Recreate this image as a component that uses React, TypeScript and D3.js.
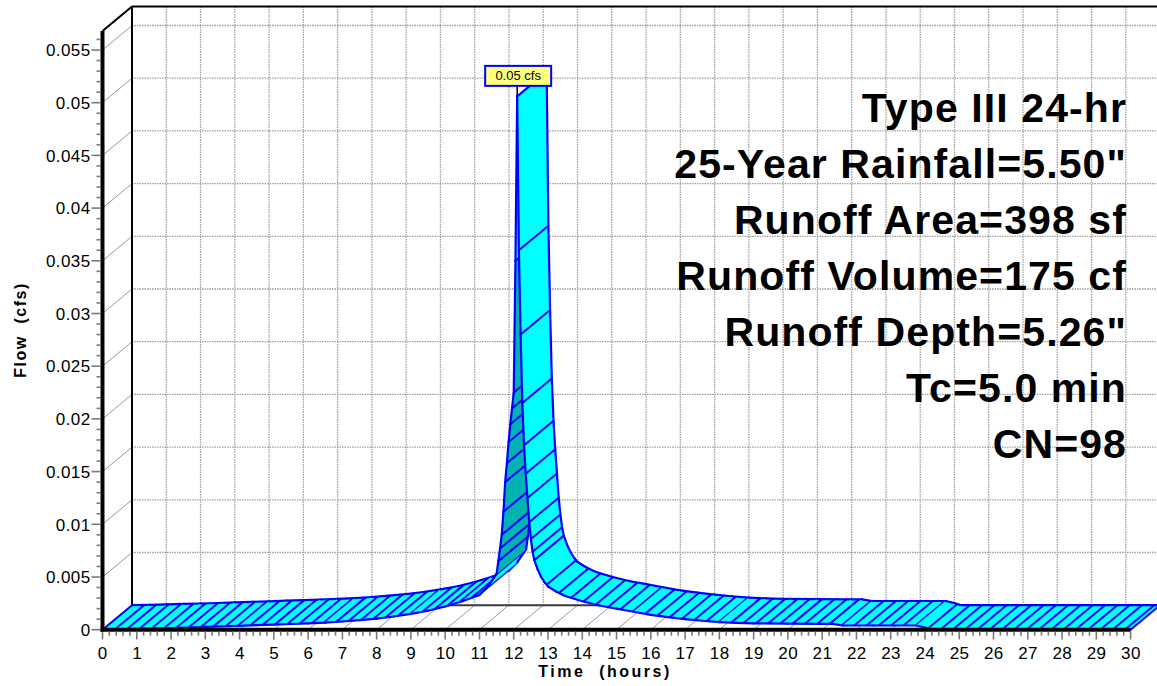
import React from "react";
import * as d3 from "d3";

// Runoff hydrograph: time (hours) and flow (cfs)
const hours = [
  0, 0.5, 1, 1.5, 2, 2.5, 3, 3.5, 4, 4.5, 5, 5.5, 6, 6.5, 7, 7.5, 8, 8.5, 9, 9.5, 10, 10.5, 11,
  11.25, 11.5,
  11.55, 11.6, 11.65, 11.7, 11.75, 11.8, 11.85, 11.9, 11.95, 12.0, 12.05, 12.1,
  12.15, 12.2, 12.25, 12.3, 12.35, 12.4, 12.45, 12.5, 12.55, 12.6,
  12.7, 12.8, 12.9, 13.0, 13.25, 13.5,
  14, 14.5, 15, 15.5, 16, 16.5, 17, 17.5, 18, 18.5, 19,
  20, 21, 21.3, 21.6, 22.5, 23.75, 24.0, 24.2, 30,
];
const flow = [
  0, 0.00004, 0.00008, 0.00012, 0.00016, 0.00021, 0.00027, 0.00032, 0.00037, 0.00043, 0.00048, 0.00054,
  0.0006, 0.00068, 0.00078, 0.0009, 0.00105, 0.00125, 0.0015, 0.0018, 0.0022, 0.0027, 0.0033,
  0.0041, 0.0053,
  0.0065, 0.0077, 0.009, 0.0112, 0.014, 0.0158, 0.0178, 0.0195, 0.021, 0.0225, 0.035, 0.0506,
  0.036, 0.028, 0.0215, 0.0175, 0.0148, 0.0125, 0.0102, 0.0086, 0.0074, 0.0066,
  0.0057, 0.005, 0.0045, 0.0041, 0.0036, 0.0032,
  0.0027, 0.0023, 0.002, 0.0017, 0.0014, 0.0012, 0.001, 0.00085, 0.00072, 0.00065, 0.0006,
  0.00058, 0.00056, 0.00055, 0.0004, 0.0004, 0.0004, 0.0002, 0, 0,
];

const xTickValues = d3.range(0, 31);
const yTickValues = [0, 0.005, 0.01, 0.015, 0.02, 0.025, 0.03, 0.035, 0.04, 0.045, 0.05, 0.055];
const yTickLabels = ["0", "0.005", "0.01", "0.015", "0.02", "0.025", "0.03", "0.035", "0.04", "0.045", "0.05", "0.055"];
const infoLines = [
  "Type III 24-hr",
  "25-Year Rainfall=5.50\"",
  "Runoff Area=398 sf",
  "Runoff Volume=175 cf",
  "Runoff Depth=5.26\"",
  "Tc=5.0 min",
  "CN=98",
];
const xTitle = "Time  (hours)";
const yTitle = "Flow  (cfs)";
const flowUnit = "cfs";

const WIDTH = 1157;
const HEIGHT = 686;
const DEPTH_X = 29.5;
const DEPTH_Y = -24.5;
const FONT = "'Liberation Sans', Arial, Helvetica, sans-serif";
const BLUE = "#0000ff";
const CYAN = "#00ffff";
const TEAL = "#00b2b2";
const GRID = "#a0a0a0";
const TICK = "#7a7a7a";

type Pt = [number, number];

export default function App() {
  const x = d3.scaleLinear().domain([0, 30]).range([102.5, 1130.6]);
  const y = d3.scaleLinear().domain([0, 0.055]).range([629.7, 50]);
  const wallTop = 0.0568;

  const x0 = x(0);
  const xEnd = x(30);
  const yBase = y(0);
  const yWall = y(wallTop);
  const back = (p: Pt): Pt => [p[0] + DEPTH_X, p[1] + DEPTH_Y];

  const pts: Pt[] = hours.map((h, i) => [x(h), y(flow[i])]);

  // Ribbon segments: shading by which side of the face is seen, plus hatch anchors
  const nSeg = pts.length - 1;
  const hatch: Pt[][] = d3.range(nSeg).map(() => []);
  const SPACING = 12.3;
  let since = 0;
  const segs = d3.range(nSeg).map((i) => {
    const a = pts[i];
    const c = pts[i + 1];
    const sdx = c[0] - a[0];
    const sdy = c[1] - a[1];
    let need = SPACING - since;
    while (need <= sdx) {
      const f = need / sdx;
      hatch[i].push([a[0] + f * sdx, a[1] + f * sdy]);
      need += SPACING;
    }
    since = sdx - (need - SPACING);
    if (Math.abs(sdy) > 3 * Math.abs(sdx) && Math.abs(sdy) > 6) {
      if (i + 1 < nSeg) hatch[i + 1].push(c);
      else hatch[i].push(c);
      since = 0;
    }
    const cross = sdx * DEPTH_Y - sdy * DEPTH_X;
    const steep = -sdy / sdx;
    const under = cross > 0 && steep > 2 && steep < 85;
    return { a, c, under };
  });

  const peakIdx = d3.maxIndex(flow);
  const peakPt = pts[peakIdx];
  const peakLabel = `${d3.format(".2f")(flow[peakIdx])} ${flowUnit}`;
  const boxW = 66;
  const boxH = 20;
  const boxBottom = peakPt[1] - 10.5;

  const xMinor = d3.range(0, 30.0001, 0.2);
  const yMinor = d3.range(0, 0.05601, 0.001);

  const poly = (p: Pt[]) => p.map((q) => q.join(",")).join(" ");

  return (
    <svg
      width={WIDTH}
      height={HEIGHT}
      style={{ position: "absolute", left: 0, top: 0, background: "#fff" }}
      fontFamily={FONT}
    >
      <rect width={WIDTH} height={HEIGHT} fill="#fff" />

      {/* back wall grid */}
      {xTickValues.slice(1).map((t) => (
        <line
          key={`gv${t}`}
          x1={x(t) + DEPTH_X}
          x2={x(t) + DEPTH_X}
          y1={yWall + DEPTH_Y}
          y2={yBase + DEPTH_Y}
          stroke={GRID}
          strokeWidth={1.3}
          strokeDasharray="1.5 1"
        />
      ))}
      {yTickValues.slice(1).map((v) => (
        <line
          key={`gh${v}`}
          x1={x0 + DEPTH_X}
          x2={xEnd + DEPTH_X}
          y1={y(v) + DEPTH_Y}
          y2={y(v) + DEPTH_Y}
          stroke={GRID}
          strokeWidth={1.3}
          strokeDasharray="1.5 1"
        />
      ))}

      {/* side wall and floor diagonals */}
      {yTickValues.slice(1).map((v) => (
        <line key={`sd${v}`} x1={x0} y1={y(v)} x2={x0 + DEPTH_X} y2={y(v) + DEPTH_Y} stroke="#999" strokeWidth={1} />
      ))}
      {xTickValues.slice(1).map((t) => (
        <line key={`fd${t}`} x1={x(t)} y1={yBase} x2={x(t) + DEPTH_X} y2={yBase + DEPTH_Y} stroke="#999" strokeWidth={1} />
      ))}

      {/* box edges */}
      <line x1={x0 + DEPTH_X} y1={yWall + DEPTH_Y} x2={x0 + DEPTH_X} y2={yBase + DEPTH_Y} stroke="#000" strokeWidth={2} />
      <line x1={x0 + DEPTH_X} y1={yWall + DEPTH_Y} x2={WIDTH + 5} y2={yWall + DEPTH_Y} stroke="#000" strokeWidth={2} />
      <line x1={x0} y1={yWall} x2={x0 + DEPTH_X} y2={yWall + DEPTH_Y} stroke="#000" strokeWidth={2} />
      <line x1={x0 + DEPTH_X} y1={yBase + DEPTH_Y} x2={xEnd + DEPTH_X} y2={yBase + DEPTH_Y} stroke="#3a3a3a" strokeWidth={2} />

      {/* hydrograph ribbon */}
      {segs.map((s, i) => {
        const b1 = back(s.a);
        const b2 = back(s.c);
        const fill = s.under ? TEAL : CYAN;
        return (
          <g key={`seg${i}`}>
            <polygon points={poly([s.a, s.c, b2, b1])} fill={fill} stroke={fill} strokeWidth={0.6} strokeLinejoin="round" />
            {hatch[i].map((p, k) => {
              const q = back(p);
              return <line key={k} x1={p[0]} y1={p[1]} x2={q[0]} y2={q[1]} stroke={BLUE} strokeWidth={2} />;
            })}
            <line x1={s.a[0]} y1={s.a[1]} x2={s.c[0]} y2={s.c[1]} stroke={BLUE} strokeWidth={2.2} strokeLinecap="round" />
            <line x1={b1[0]} y1={b1[1]} x2={b2[0]} y2={b2[1]} stroke={BLUE} strokeWidth={2.2} strokeLinecap="round" />
          </g>
        );
      })}
      <line x1={pts[0][0]} y1={pts[0][1]} x2={back(pts[0])[0]} y2={back(pts[0])[1]} stroke={BLUE} strokeWidth={2} />
      <line
        x1={pts[nSeg][0]}
        y1={pts[nSeg][1]}
        x2={back(pts[nSeg])[0]}
        y2={back(pts[nSeg])[1]}
        stroke={BLUE}
        strokeWidth={2}
      />

      {/* front axes */}
      <line x1={x0} y1={yWall} x2={x0} y2={yBase + 2} stroke="#000" strokeWidth={4} />
      <line x1={x0 - 2} y1={yBase} x2={xEnd} y2={yBase} stroke="#000" strokeWidth={4} />

      {/* ticks */}
      {yMinor.map((v, i) => {
        const major = i % 5 === 0;
        return (
          <line key={`yt${i}`} x1={major ? 91.5 : 96.5} x2={100.5} y1={y(v)} y2={y(v)} stroke={TICK} strokeWidth={1.6} />
        );
      })}
      {xMinor.map((t, i) => {
        const major = i % 5 === 0;
        return (
          <line key={`xt${i}`} x1={x(t)} x2={x(t)} y1={631.7} y2={major ? 639.5 : 635.7} stroke={TICK} strokeWidth={1.6} />
        );
      })}

      {/* tick labels */}
      {yTickValues.map((v, i) => (
        <text key={`yl${v}`} x={90.5} y={y(v) + 6.2} textAnchor="end" fontSize={17} letterSpacing={0.4} fill="#000">
          {yTickLabels[i]}
        </text>
      ))}
      {xTickValues.map((t) => (
        <text key={`xl${t}`} x={x(t) + 0.3} y={658.5} textAnchor="middle" fontSize={17} letterSpacing={0.4} fill="#000">
          {String(t)}
        </text>
      ))}

      {/* axis titles */}
      <text
        x={605}
        y={677}
        textAnchor="middle"
        fontSize={16}
        fontWeight="bold"
        letterSpacing={2.5}
        style={{ whiteSpace: "pre" }}
      >
        {xTitle}
      </text>
      <text
        transform={`translate(26,330) rotate(-90)`}
        textAnchor="middle"
        fontSize={16}
        fontWeight="bold"
        letterSpacing={1.5}
        style={{ whiteSpace: "pre" }}
      >
        {yTitle}
      </text>

      {/* peak label */}
      <line x1={peakPt[0]} y1={boxBottom} x2={peakPt[0]} y2={peakPt[1]} stroke="#000" strokeWidth={1.5} />
      <rect
        x={peakPt[0] - boxW / 2 + 1}
        y={boxBottom - boxH}
        width={boxW}
        height={boxH}
        fill="#ffff80"
        stroke={BLUE}
        strokeWidth={2}
      />
      <text x={peakPt[0] + 1} y={boxBottom - 5.5} textAnchor="middle" fontSize={13} fill="#000">
        {peakLabel}
      </text>

      {/* storm summary */}
      {infoLines.map((line, i) => (
        <text
          key={`info${i}`}
          x={1127}
          y={121.7 + i * 56}
          textAnchor="end"
          fontSize={41}
          fontWeight="bold"
          letterSpacing={1.1}
          fill="#000"
        >
          {line}
        </text>
      ))}
    </svg>
  );
}
